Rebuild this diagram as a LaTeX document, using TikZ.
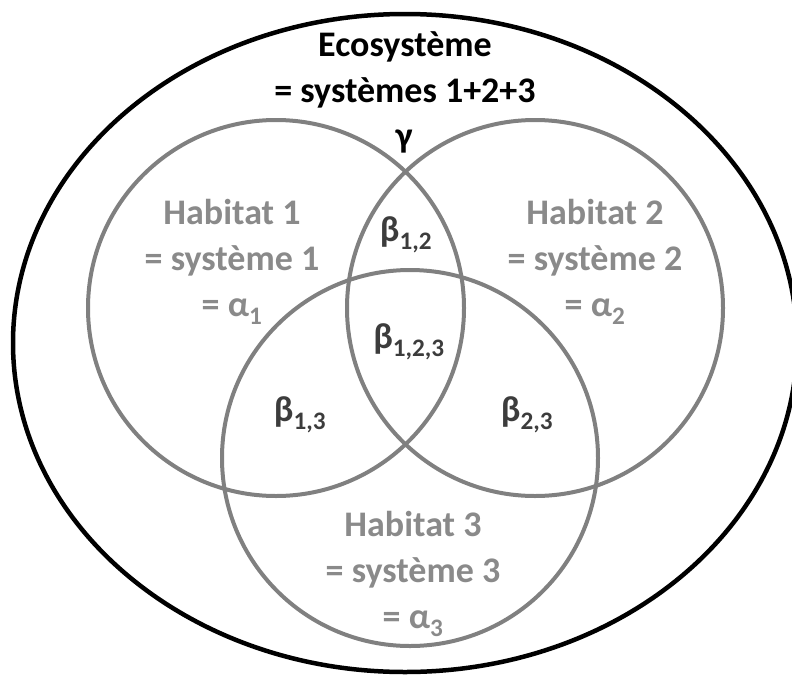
\documentclass[tikz,border=0pt]{standalone}
\usepackage{fontspec}
\setmainfont{Carlito}
\definecolor{vgray}{HTML}{808080}
\definecolor{tgray}{HTML}{8A8A8A}
\definecolor{bgray}{HTML}{3C3C3C}
\begin{document}
\begin{tikzpicture}[x=1pt,y=-1pt,
  venn/.style={draw=vgray,line width=4pt},
  outerell/.style={draw=black,line width=4.5pt},
  lbl/.style={font=\fontsize{36}{46}\selectfont\bfseries,align=center,inner sep=0pt},
  hab/.style={lbl,text=tgray},
  betalbl/.style={lbl,text=bgray}]
\useasboundingbox (0,0) rectangle (792,675);
\draw[outerell] (405,343) ellipse [x radius=392, y radius=329];
\draw[venn] (276,308) circle [radius=188];
\draw[venn] (535,308) circle [radius=188];
\draw[venn] (410,458) circle [radius=188];
\node[lbl] (eco) at (405,70) {Ecosystème\\= systèmes 1+2+3};
\node[lbl] (gamma) at (404,142) {γ};
\node[hab] (h1) at (232,262) {Habitat 1\\= système 1\\= α\textsubscript{1}};
\node[hab] (h2) at (595,262) {Habitat 2\\= système 2\\= α\textsubscript{2}};
\node[hab] (h3) at (413,574) {Habitat 3\\= système 3\\= α\textsubscript{3}};
\node[betalbl] (b12) at (406,235) {β\textsubscript{1,2}};
\node[betalbl] (b123) at (409,342) {β\textsubscript{1,2,3}};
\node[betalbl] (b13) at (300,415) {β\textsubscript{1,3}};
\node[betalbl] (b23) at (527,415) {β\textsubscript{2,3}};
\end{tikzpicture}
\end{document}
